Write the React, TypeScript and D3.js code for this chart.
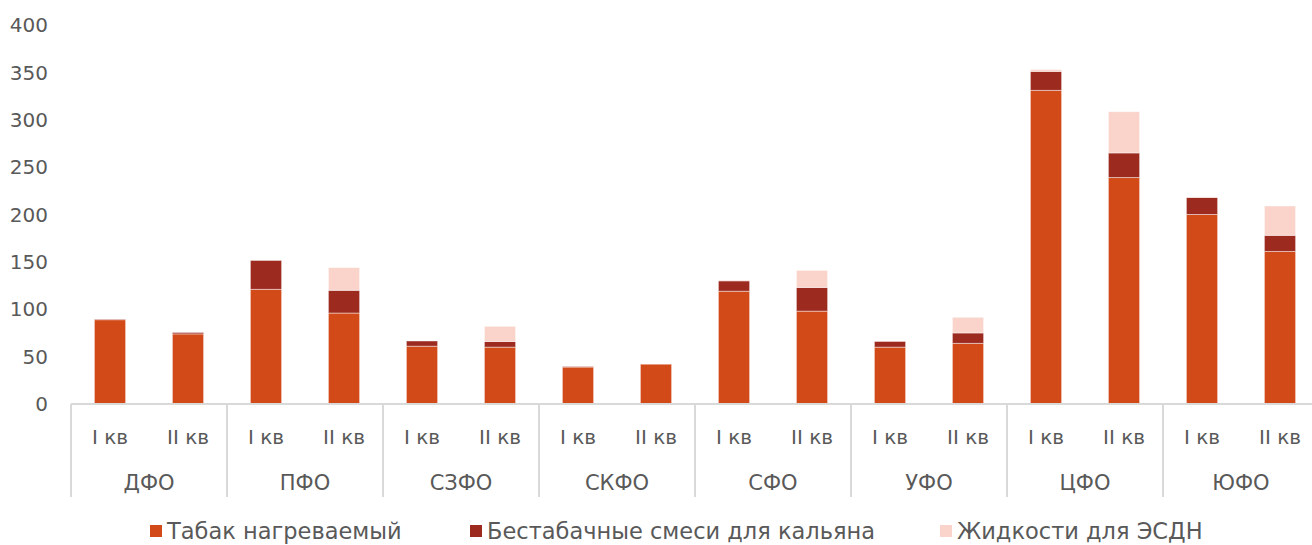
import * as d3 from 'd3';

// districts and quarters
const districts = ['ДФО', 'ПФО', 'СЗФО', 'СКФО', 'СФО', 'УФО', 'ЦФО', 'ЮФО'];
const quarters = ['I кв', 'II кв'];

// values per bar, order: ДФО I, ДФО II, ПФО I, ПФО II, ...
const heated = [89, 74, 121, 96, 61, 60, 39, 42, 119, 98, 60, 64, 331, 239, 200, 161];
const hookah = [0.5, 1.5, 30.5, 24, 5.5, 6, 0.5, 0, 11, 25, 6, 11, 20, 26, 18, 17];
const liquids = [0, 0, 0, 24, 0, 16, 0, 0, 0.5, 18, 0, 16.5, 2, 43.5, 0.5, 31];

const seriesNames = ['Табак нагреваемый', 'Бестабачные смеси для кальяна', 'Жидкости для ЭСДН'];
const colors = ['#D24A18', '#9C2A1F', '#FAD4CA'];
const yTicks = [0, 50, 100, 150, 200, 250, 300, 350, 400];

const W = 1312;
const H = 545;
const left = 71;
const right = 1319;
const y0 = 404;
const yTop = 25;
const font = '"DejaVu Sans", Lato, sans-serif';
const textColor = '#595959';
const axisColor = '#d9d9d9';

export default function App() {
  const keys = districts.flatMap(d => quarters.map(q => `${d}|${q}`));
  const rows = keys.map((k, i) => ({ key: k, heated: heated[i], hookah: hookah[i], liquids: liquids[i] }));

  const x = d3.scaleBand<string>().domain(keys).range([left, right]).paddingInner(0.6).paddingOuter(0.3);
  const groupX = d3.scaleBand<string>().domain(districts).range([left, right]);
  const y = d3.scaleLinear().domain([0, 400]).range([y0, yTop]);

  const stack = d3.stack<any>().keys(['heated', 'hookah', 'liquids']);
  const layers = stack(rows);

  const legendX = [150, 470, 940];

  return (
    <svg width={W} height={H} style={{ position: 'absolute', left: 0, top: 0, background: '#fff' }} fontFamily={font}>
      {/* y axis labels */}
      {yTicks.map(t => (
        <text key={t} x={48} y={y(t)} dy="0.36em" textAnchor="end" fontSize={20} fill={textColor}>
          {t}
        </text>
      ))}

      {/* bars */}
      {layers.map((layer, li) => (
        <g key={li} fill={colors[li]}>
          {layer.map((d, i) => {
            const h = y(d[0]) - y(d[1]);
            if (h <= 0) return null;
            return (
              <rect
                key={i}
                x={x(keys[i])}
                y={y(d[1])}
                width={x.bandwidth()}
                height={h}
                stroke="#ffffff"
                strokeOpacity={0.45}
                strokeWidth={1}
              />
            );
          })}
        </g>
      ))}

      {/* x axis */}
      <line x1={left} x2={W} y1={y0} y2={y0} stroke={axisColor} strokeWidth={2} />
      {districts.map(d => (
        <line key={d} x1={groupX(d)} x2={groupX(d)} y1={y0} y2={497} stroke={axisColor} strokeWidth={2} />
      ))}

      {/* quarter labels */}
      {keys.map((k, i) => (
        <text key={k} x={(x(k) as number) + x.bandwidth() / 2} y={437} dy="0.36em" textAnchor="middle" fontSize={20} fill={textColor}>
          {quarters[i % 2]}
        </text>
      ))}

      {/* district labels */}
      {districts.map(d => (
        <text key={d} x={(groupX(d) as number) + groupX.bandwidth() / 2} y={482} dy="0.36em" textAnchor="middle" fontSize={21} fill={textColor}>
          {d}
        </text>
      ))}

      {/* legend */}
      {seriesNames.map((s, i) => (
        <g key={s} transform={`translate(${legendX[i]},${531})`}>
          <rect x={0} y={-6} width={12} height={12} fill={colors[i]} />
          <text x={17} y={0} dy="0.36em" fontSize={22.5} fill={textColor}>
            {s}
          </text>
        </g>
      ))}
    </svg>
  );
}
